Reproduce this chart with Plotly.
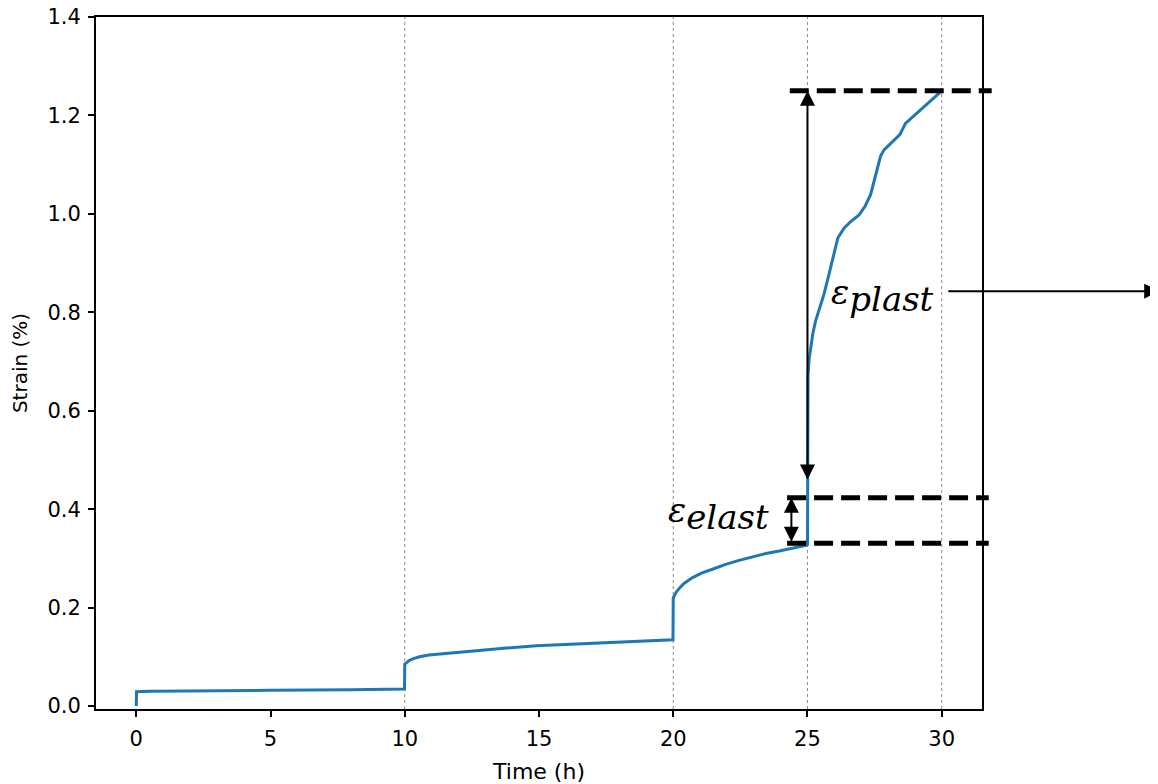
import plotly.graph_objects as go

# ---------------- data ----------------
time_h = [0, 0.01, 0.5, 2, 5, 8, 9.99,
          10.0, 10.05, 10.15, 10.3, 10.55, 10.9, 11.4, 12, 12.8, 13.8, 14.9, 16.3, 17.7, 19.99,
          20.0, 20.05, 20.12, 20.22, 20.4, 20.72, 21.05, 21.46, 21.95, 22.45, 22.95, 23.45,
          23.95, 24.44, 24.98,
          25.0, 25.0, 25.02, 25.06, 25.11, 25.2, 25.3, 25.45, 25.61, 25.8, 25.99, 26.13, 26.36,
          26.6, 26.92, 27.15, 27.35, 27.53, 27.72, 27.85, 28.03, 28.25, 28.44, 28.65, 28.85,
          29.09, 29.5, 30.0]
strain_pct = [0.0, 0.029, 0.030, 0.031, 0.032, 0.033, 0.0345,
              0.085, 0.088, 0.092, 0.096, 0.100, 0.1035, 0.106, 0.109, 0.1136, 0.118, 0.1223,
              0.126, 0.129, 0.1345,
              0.220, 0.226, 0.232, 0.239, 0.249, 0.261, 0.270, 0.278, 0.288, 0.296, 0.303, 0.310,
              0.315, 0.320, 0.327,
              0.328, 0.62, 0.672, 0.705, 0.728, 0.757, 0.782, 0.810, 0.836, 0.877, 0.917, 0.951,
              0.971, 0.984, 0.998, 1.016, 1.039, 1.079, 1.117, 1.130, 1.140, 1.150, 1.161, 1.184,
              1.194, 1.204, 1.226, 1.25]

x_ticks = [0, 5, 10, 15, 20, 25, 30]
y_ticks = [0.0, 0.2, 0.4, 0.6, 0.8, 1.0, 1.2, 1.4]
y_tick_labels = ["0.0", "0.2", "0.4", "0.6", "0.8", "1.0", "1.2", "1.4"]
grid_times = [10, 20, 25, 30]

eps_plast_top = 1.25
eps_plast_bottom = 0.457
eps_elast_top = 0.423
eps_elast_bottom = 0.331

X_RANGE = [-1.5, 31.5]
Y_RANGE = [-0.006, 1.4]


def xp(t):
    return (t - X_RANGE[0]) / (X_RANGE[1] - X_RANGE[0])


def yp(v):
    return (v - Y_RANGE[0]) / (Y_RANGE[1] - Y_RANGE[0])


fig = go.Figure()
fig.add_trace(go.Scatter(x=time_h, y=strain_pct, mode="lines",
                         line=dict(color="#1f77b4", width=3),
                         showlegend=False, hoverinfo="skip"))

shapes = []
for g in grid_times:
    shapes.append(dict(type="line", xref="x", yref="paper", x0=g, x1=g, y0=0, y1=1,
                       line=dict(color="#8a8a8a", width=1, dash="dot"), layer="below"))

dash_style = dict(color="black", width=5, dash="19px,8px")
for (t0, t1, v) in [(24.34, 31.86, eps_plast_top),
                    (24.24, 31.75, eps_elast_top),
                    (24.24, 31.75, eps_elast_bottom)]:
    shapes.append(dict(type="line", xref="paper", yref="paper",
                       x0=xp(t0), x1=xp(t1), y0=yp(v), y1=yp(v),
                       line=dash_style, layer="above"))

annotations = []
# double arrow for plastic strain
annotations.append(dict(x=25.0, y=eps_plast_top, ax=25.0, ay=eps_plast_bottom,
                        xref="x", yref="y", axref="x", ayref="y", text="",
                        showarrow=True, arrowside="end+start", arrowhead=2, startarrowhead=2,
                        arrowsize=1.5, startarrowsize=1.5, arrowwidth=2, arrowcolor="black"))
# double arrow for elastic strain
annotations.append(dict(x=24.4, y=eps_elast_top, ax=24.4, ay=eps_elast_bottom,
                        xref="x", yref="y", axref="x", ayref="y", text="",
                        showarrow=True, arrowside="end+start", arrowhead=2, startarrowhead=2,
                        arrowsize=1.5, startarrowsize=1.5, arrowwidth=2, arrowcolor="black"))
# arrow to the right
annotations.append(dict(x=38.1, y=0.843, ax=30.19, ay=0.843,
                        xref="x", yref="y", axref="x", ayref="y", text="",
                        showarrow=True, arrowside="end", arrowhead=2,
                        arrowsize=1.5, arrowwidth=2, arrowcolor="black"))

sym_font = dict(family="DejaVu Serif", size=34, color="black", style="italic")
sub_span = "<sub><span style='font-size:34px'>{}</span></sub>"
annotations.append(dict(x=25.80, y=0.835, xref="x", yref="y",
                        text="ε" + sub_span.format("plast"), showarrow=False,
                        xanchor="left", yanchor="middle", font=sym_font))
annotations.append(dict(x=19.72, y=0.392, xref="x", yref="y",
                        text="ε" + sub_span.format("elast"), showarrow=False,
                        xanchor="left", yanchor="middle", font=sym_font))

fig.update_layout(
    width=1150, height=776,
    margin=dict(l=88, r=176, t=9, b=75, autoexpand=False),
    paper_bgcolor="white", plot_bgcolor="white",
    font=dict(family="DejaVu Sans", color="black"),
    shapes=shapes, annotations=annotations,
    xaxis=dict(range=X_RANGE, tickvals=x_ticks, showgrid=False, zeroline=False,
               showline=True, linecolor="black", linewidth=2, mirror=True,
               ticks="outside", ticklen=6, tickwidth=2, tickcolor="black",
               tickfont=dict(size=21), ticklabelstandoff=4, ticklabeloverflow="allow",
               title=dict(text="Time (h)", font=dict(size=22), standoff=14)),
    yaxis=dict(range=Y_RANGE, tickvals=y_ticks, ticktext=y_tick_labels, showgrid=False,
               zeroline=False, showline=True, linecolor="black", linewidth=2, mirror=True,
               ticks="outside", ticklen=6, tickwidth=2, tickcolor="black",
               tickfont=dict(size=21), ticklabelstandoff=3, ticklabeloverflow="allow",
               title=dict(text="Strain (%)", font=dict(size=20), standoff=16)),
)

fig.write_html("out.html")
